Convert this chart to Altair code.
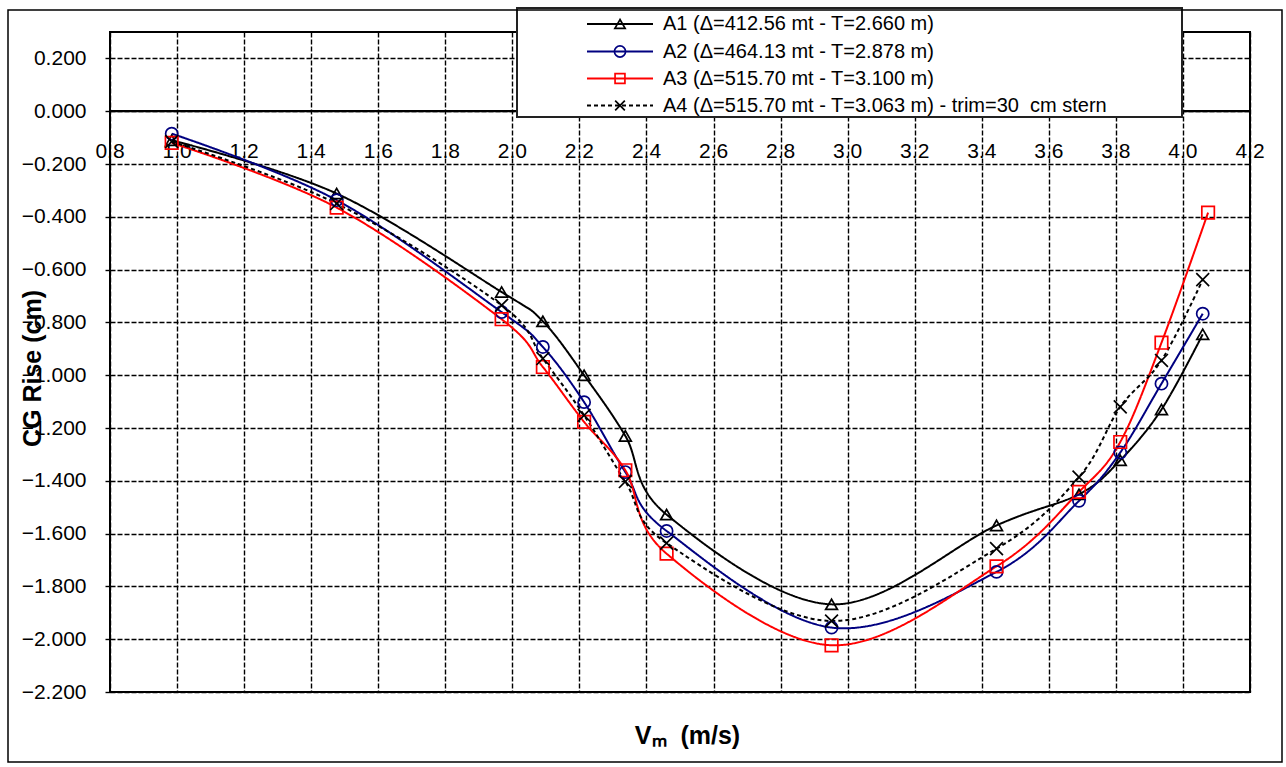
import altair as alt
import pandas as pd

# Model speed (m/s) at each test run
speed = [0.984, 1.476, 1.968, 2.091, 2.214, 2.337, 2.460, 2.952, 3.444, 3.690, 3.813, 3.936, 4.059]
speed_a3 = [0.984, 1.476, 1.968, 2.091, 2.214, 2.337, 2.460, 2.952, 3.444, 3.690, 3.813, 3.936, 4.075]

# CG rise (cm) for each loading condition
rise_a1 = [-0.110, -0.312, -0.685, -0.796, -1.000, -1.230, -1.528, -1.868, -1.569, -1.451, -1.322, -1.130, -0.845]
rise_a2 = [-0.085, -0.337, -0.761, -0.893, -1.102, -1.367, -1.590, -1.956, -1.745, -1.476, -1.293, -1.032, -0.767]
rise_a3 = [-0.120, -0.365, -0.788, -0.969, -1.177, -1.360, -1.676, -2.023, -1.724, -1.442, -1.253, -0.877, -0.384]
rise_a4 = [-0.115, -0.350, -0.735, -0.937, -1.152, -1.403, -1.636, -1.931, -1.657, -1.386, -1.120, -0.944, -0.638]

series_names = ["A1", "A2", "A3", "A4"]
series_labels = [
    "A1 (\u0394=412.56 mt - T=2.660 m)",
    "A2 (\u0394=464.13 mt - T=2.878 m)",
    "A3 (\u0394=515.70 mt - T=3.100 m)",
    "A4 (\u0394=515.70 mt - T=3.063 m) - trim=30\u00a0 cm stern",
]
series_colors = ["#000000", "#000080", "#ff0000", "#000000"]
series_dash = [[1, 0], [1, 0], [1, 0], [4, 3]]
series_shapes = ["triangle-up", "circle", "square", "M-1,-1L1,1M-1,1L1,-1"]
series_sizes = [140, 165, 130, 125]

x_ticks = [0.8, 1.0, 1.2, 1.4, 1.6, 1.8, 2.0, 2.2, 2.4, 2.6, 2.8, 3.0, 3.2, 3.4, 3.6, 3.8, 4.0, 4.2]
y_ticks = [0.2, 0.0, -0.2, -0.4, -0.6, -0.8, -1.0, -1.2, -1.4, -1.6, -1.8, -2.0, -2.2]

FONT = "Liberation Sans"
W, H = 1140, 660

rows = []
for name, xs, ys in zip(series_names,
                        [speed, speed, speed_a3, speed],
                        [rise_a1, rise_a2, rise_a3, rise_a4]):
    for i, (xv, yv) in enumerate(zip(xs, ys)):
        rows.append({"series": name, "speed": xv, "rise": yv, "idx": i})
df = pd.DataFrame(rows)

x_scale = alt.Scale(domain=[0.8, 4.2], nice=False, zero=False)
y_scale = alt.Scale(domain=[-2.2, 0.3], nice=False, zero=False)

grid_style = dict(grid=True, gridDash=[5, 2], gridColor="black", gridWidth=1.4, gridOpacity=1)

x_axis = alt.Axis(values=x_ticks, labels=False, ticks=False, domain=False,
                  title="V\u2098\u00a0 (m/s)", titleFont=FONT, titleFontSize=25,
                  titleFontWeight="bold", titleColor="black",
                  titleX=577, titleY=43, titleAlign="center", titleBaseline="middle",
                  **grid_style)
y_axis = alt.Axis(values=y_ticks, format=".3f", labelFont=FONT, labelFontSize=21,
                  labelColor="black", labelPadding=19, tickSize=5, tickColor="black",
                  tickWidth=1.4, domain=False,
                  title="CG Rise (cm)", titleFont=FONT, titleFontSize=25,
                  titleFontWeight="bold", titleColor="black", titleAngle=270,
                  titleX=-78, titleY=336, titleAlign="center", titleBaseline="middle",
                  **grid_style)

X = alt.X("speed:Q", scale=x_scale, axis=x_axis)
Y = alt.Y("rise:Q", scale=y_scale, axis=y_axis)

color_enc = alt.Color("series:N", scale=alt.Scale(domain=series_names, range=series_colors), legend=None)
dash_enc = alt.StrokeDash("series:N", scale=alt.Scale(domain=series_names, range=series_dash), legend=None)
shape_enc = alt.Shape("series:N", scale=alt.Scale(domain=series_names, range=series_shapes), legend=None)
size_enc = alt.Size("series:N", scale=alt.Scale(domain=series_names, range=series_sizes), legend=None)

# zero line, which carries the speed labels underneath it
zero_line = alt.Chart(pd.DataFrame({"rise": [0.0]})).mark_rule(color="black", strokeWidth=2.2).encode(
    y=alt.Y("rise:Q", scale=y_scale, axis=y_axis)
)

tick_labels = alt.Chart(pd.DataFrame({"speed": x_ticks})).mark_text(
    font=FONT, fontSize=21, color="black", align="center", baseline="middle"
).encode(
    x=X,
    y=alt.datum(-0.156),
    text=alt.Text("speed:Q", format=".1f"),
)

lines = alt.Chart(df).mark_line(interpolate="cardinal", strokeWidth=2).encode(
    x=X, y=Y, color=color_enc, strokeDash=dash_enc, order="idx:Q"
)

points = alt.Chart(df).mark_point(filled=False, strokeWidth=1.7, opacity=1).encode(
    x=X, y=Y, color=color_enc, shape=shape_enc, size=size_enc
)

# legend box in the upper part of the frame
one = pd.DataFrame({"k": [0]})
legend_box = alt.Chart(one).mark_rect(fill="white", stroke="#222222", strokeWidth=2).encode(
    x=alt.value(407), x2=alt.value(1072), y=alt.value(-24), y2=alt.value(85)
)
legend_layers = [legend_box]
row_y = [-8, 19.5, 46.5, 73.5]
for i in range(4):
    legend_layers.append(
        alt.Chart(one).mark_rule(color=series_colors[i], strokeWidth=1.8,
                                 strokeDash=series_dash[i]).encode(
            x=alt.value(477), x2=alt.value(543), y=alt.value(row_y[i]))
    )
    legend_layers.append(
        alt.Chart(one).mark_point(shape=series_shapes[i], size=series_sizes[i] * 0.75,
                                  color=series_colors[i], filled=False, strokeWidth=1.7,
                                  opacity=1).encode(
            x=alt.value(510), y=alt.value(row_y[i]))
    )
    legend_layers.append(
        alt.Chart(one).mark_text(font=FONT, fontSize=20, color="black", align="left",
                                 baseline="middle").encode(
            x=alt.value(553), y=alt.value(row_y[i]), text=alt.value(series_labels[i]))
    )

frame = alt.Chart(one).mark_rect(fillOpacity=0, stroke="black", strokeWidth=1.5).encode(
    x=alt.value(-102), x2=alt.value(1172), y=alt.value(-22), y2=alt.value(730)
)

chart = alt.layer(
    zero_line, tick_labels, lines, points, *legend_layers, frame
).properties(
    width=W, height=H,
    padding={"left": 110, "top": 32, "right": 36, "bottom": 75},
    autosize=alt.AutoSizeParams(type="none"),
    background="white",
).configure_view(
    stroke="black", strokeWidth=2
)

chart.save("out.html", embed_options={"renderer": "svg", "actions": False})
